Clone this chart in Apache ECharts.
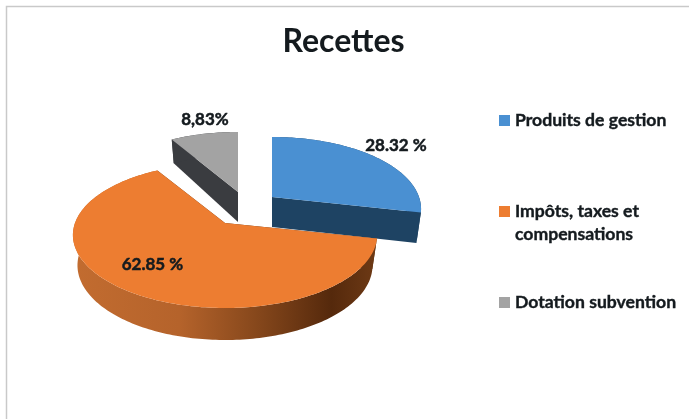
<!DOCTYPE html>
<html><head><meta charset="utf-8">
<script src="https://cdn.jsdelivr.net/npm/echarts@6/dist/echarts.min.js"></script>
<style>html,body{margin:0;padding:0;background:#fff}#c{width:689px;height:419px}</style>
</head><body><div id="c"></div>
<script>
const titleText = 'Recettes';
const categories = ['Produits de gestion', 'Impôts, taxes et compensations', 'Dotation subvention'];
const values = [28.32, 62.85, 8.83];
const valueLabels = ['28.32 %', '62.85 %', '8,83%'];

const FONT = 'Lato, "Open Sans", sans-serif';
const INK = '#141a1e';
const colors = ['#4a90d2', '#ed7d31', '#a3a3a3'];
const total = values.reduce((a, b) => a + b, 0);

// slice apex positions, radii, wall styles, label positions
const apex = [[272, 197], [225, 223], [238, 192]];
const radius = [147, 150, 147];
const labelAt = [[396, 146], [152.5, 265], [205, 120]];
const cutColor = ['#1e4363', '#5a2f10', '#3a3c40'];
const rimColor = [
  '#1e4363',
  { type: 'linear', x: 0, y: 0, x2: 1, y2: 0, colorStops: [
    { offset: 0, color: '#c26c30' }, { offset: 0.35, color: '#b5632b' },
    { offset: 0.6, color: '#87481c' }, { offset: 0.85, color: '#55290c' }, { offset: 1, color: '#6e3a15' } ] },
  '#3a3c40'
];
const K = 0.17, UP = 60, DOWN = 85;

function project(o, R, theta, rad, z) {
  const s = Math.sin(theta), c = -Math.cos(theta);
  const f = 1 + K * c;
  const yMid = ((UP + DOWN) / 2) * c + ((DOWN - UP) / 2) * c * c;
  const depth = rad === 0 ? 30 : (c < 0 ? 29 + 6 * c : 30 + 2 * c);
  return [
    o[0] + rad * R * s * f * (1 - 0.03 * z),
    o[1] + rad * yMid + z * depth
  ];
}
function arc(o, R, a0, a1, z) {
  const pts = [];
  const n = Math.max(4, Math.ceil((a1 - a0) / 0.02));
  for (let i = 0; i <= n; i++) pts.push(project(o, R, a0 + (a1 - a0) * i / n, 1, z));
  return pts;
}
const poly = (points, fill) => ({
  type: 'polygon', shape: { points }, style: { fill, stroke: null }, silent: true
});

function sliceRenderer(i) {
  return function (params, api) {
    const before = values.slice(0, i).reduce((a, b) => a + b, 0);
    const a0 = before / total * 2 * Math.PI;
    const a1 = a0 + api.value(0) / total * 2 * Math.PI;
    const o = apex[i], R = radius[i];
    const top = arc(o, R, a0, a1, 0);
    const bottom = arc(o, R, a0, a1, 1).reverse();
    const centerTop = project(o, R, 0, 0, 0), centerBot = project(o, R, 0, 0, 1);
    const children = [
      poly([centerTop, project(o, R, a0, 1, 0), project(o, R, a0, 1, 1), centerBot], cutColor[i]),
      poly([centerTop, project(o, R, a1, 1, 0), project(o, R, a1, 1, 1), centerBot], cutColor[i]),
      poly(top.concat(bottom), rimColor[i]),
      poly([centerTop].concat(top), api.visual('color')),
      { type: 'text', silent: true, x: labelAt[i][0], y: labelAt[i][1],
        style: { text: valueLabels[i], font: 'bold 17px ' + FONT, fill: INK, stroke: INK, lineWidth: 0.5,
          align: 'center', verticalAlign: 'middle' } }
    ];
    return { type: 'group', children };
  };
}

const legendText = { fontFamily: FONT, fontWeight: 'bold', fontSize: 17.6, color: INK, lineHeight: 23,
  textBorderColor: INK, textBorderWidth: 0.4 };
const legendCommon = { left: 499, orient: 'vertical', icon: 'rect', itemWidth: 11, itemHeight: 11, itemGap: 0, padding: 0, textStyle: legendText, selectedMode: false };

const chart = echarts.init(document.getElementById('c'), null, { renderer: 'canvas' });
chart.setOption({
  animation: false,
  backgroundColor: '#ffffff',
  color: colors,
  title: { text: titleText, left: 338.5, top: 21, textAlign: 'center',
    textStyle: { fontFamily: FONT, fontWeight: 'bold', fontSize: 32, color: INK } },
  legend: [
    Object.assign({}, legendCommon, { top: 109, data: [categories[0]] }),
    Object.assign({}, legendCommon, { top: 177, data: [categories[1]],
      formatter: () => '\nImpôts, taxes et\ncompensations' }),
    Object.assign({}, legendCommon, { top: 291, data: [categories[2]] })
  ],
  graphic: [{ type: 'polyline', silent: true, shape: { points: [[6.5, 430], [6.5, 6.5], [700, 6.5]] },
    style: { stroke: '#c9c9c9', lineWidth: 1.5, fill: null } }],
  series: categories.map((name, i) => ({
    type: 'custom', name, coordinateSystem: 'none',
    data: [values[i]], renderItem: sliceRenderer(i), silent: true
  }))
});
</script></body></html>
